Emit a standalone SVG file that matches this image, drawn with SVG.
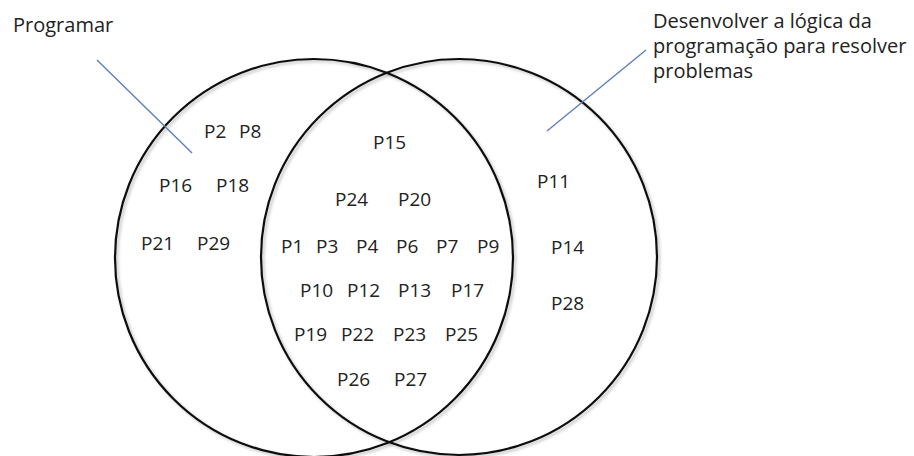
<svg xmlns="http://www.w3.org/2000/svg" width="914" height="456" viewBox="0 0 914 456">
<style>
.ring{fill:none;stroke:#111;stroke-width:2.2}
.lbl{font-family:"Open Sans","Liberation Sans",sans-serif;font-size:19px;fill:#222}
.title{font-family:"Open Sans","Liberation Sans",sans-serif;font-size:20px;fill:#222}
.lead{stroke:#5b7fc0;stroke-width:1.4;fill:none}
</style>
<defs>
<filter id="sh" x="-10%" y="-10%" width="120%" height="120%">
<feDropShadow dx="2" dy="2" stdDeviation="1.5" flood-color="#000" flood-opacity="0.25"/>
</filter>
</defs>
<rect width="914" height="456" fill="#fff"/>
<g id="set-programar">
<circle class="ring" cx="314" cy="258" r="199" filter="url(#sh)"/>
<text class="title" x="13" y="32">Programar</text>
</g>
<g id="set-logica">
<circle class="ring" cx="459" cy="257" r="198" filter="url(#sh)"/>
<text class="title" x="653" y="28">Desenvolver a lógica da</text>
<text class="title" x="653" y="53">programação para resolver</text>
<text class="title" x="653" y="78">problemas</text>
</g>
<g id="connectors">
<line class="lead" x1="97" y1="60" x2="192" y2="153"/>
<line class="lead" x1="547" y1="131" x2="646" y2="50"/>
</g>
<g id="only-programar" class="lbl">
<text class="lbl" x="204" y="138">P2</text>
<text class="lbl" x="239" y="138">P8</text>
<text class="lbl" x="159" y="192">P16</text>
<text class="lbl" x="216" y="192">P18</text>
<text class="lbl" x="141" y="250">P21</text>
<text class="lbl" x="197" y="250">P29</text>
</g>
<g id="intersection">
<text class="lbl" x="373" y="149">P15</text>
<text class="lbl" x="335" y="206">P24</text>
<text class="lbl" x="398" y="206">P20</text>
<text class="lbl" x="281" y="253">P1</text>
<text class="lbl" x="316" y="253">P3</text>
<text class="lbl" x="356" y="253">P4</text>
<text class="lbl" x="396" y="253">P6</text>
<text class="lbl" x="436" y="253">P7</text>
<text class="lbl" x="477" y="253">P9</text>
<text class="lbl" x="300" y="297">P10</text>
<text class="lbl" x="347" y="297">P12</text>
<text class="lbl" x="398" y="297">P13</text>
<text class="lbl" x="451" y="297">P17</text>
<text class="lbl" x="294" y="341">P19</text>
<text class="lbl" x="341" y="341">P22</text>
<text class="lbl" x="393" y="341">P23</text>
<text class="lbl" x="445" y="341">P25</text>
<text class="lbl" x="337" y="386">P26</text>
<text class="lbl" x="394" y="386">P27</text>
</g>
<g id="only-logica">
<text class="lbl" x="537" y="188">P11</text>
<text class="lbl" x="551" y="254">P14</text>
<text class="lbl" x="551" y="310">P28</text>
</g>
</svg>
